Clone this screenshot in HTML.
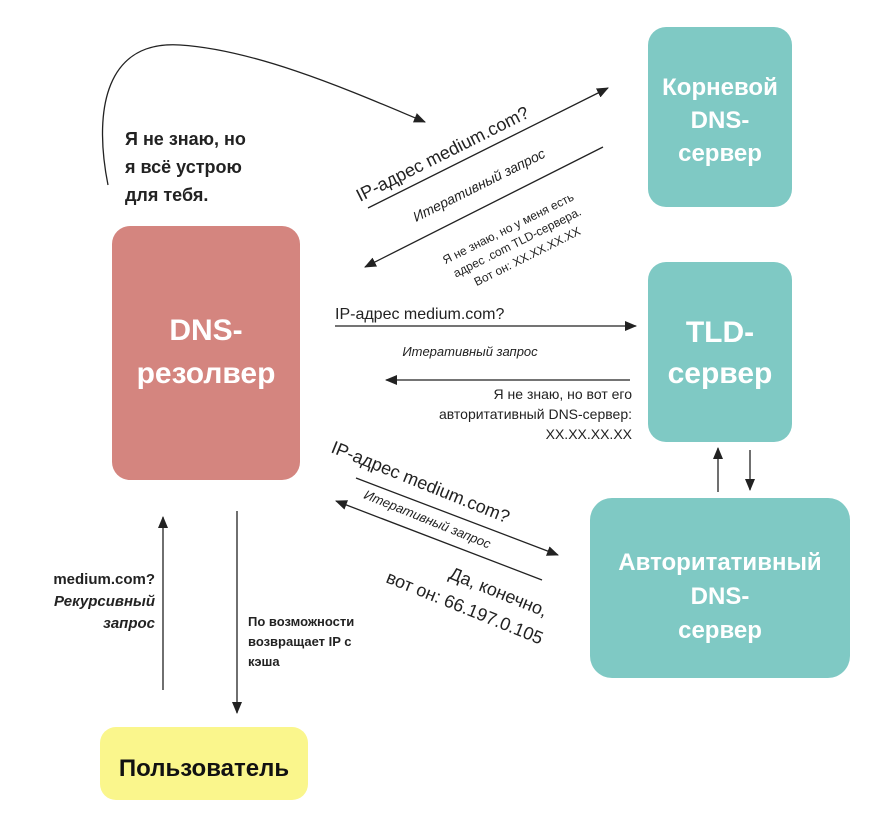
<!DOCTYPE html>
<html><head><meta charset="utf-8"><style>
html,body{margin:0;padding:0;background:#fff;}
svg{display:block;font-family:"Liberation Sans","DejaVu Sans",sans-serif;}
</style></head><body>
<svg width="878" height="828" viewBox="0 0 878 828" xmlns="http://www.w3.org/2000/svg">
<defs>
<marker id="a" markerWidth="12" markerHeight="10" refX="11" refY="5" orient="auto" markerUnits="userSpaceOnUse">
<path d="M0,0 L12,5 L0,10 Z" fill="#222"/></marker>
</defs>
<rect x="648" y="27" width="144" height="180" rx="18" fill="#7fc9c4"/>
<rect x="648" y="262" width="144" height="180" rx="18" fill="#7fc9c4"/>
<rect x="590" y="498" width="260" height="180" rx="22" fill="#7fc9c4"/>
<rect x="112" y="226" width="188" height="254" rx="18" fill="#d4857f"/>
<rect x="100" y="727" width="208" height="73" rx="16" fill="#faf68c"/>
<g fill="#fff" font-weight="bold" text-anchor="middle">
<text x="720" y="95" font-size="24">Корневой</text>
<text x="720" y="128" font-size="24">DNS-</text>
<text x="720" y="161" font-size="24">сервер</text>
<text x="720" y="342" font-size="30">TLD-</text>
<text x="720" y="383" font-size="30">сервер</text>
<text x="720" y="570" font-size="24">Авторитативный</text>
<text x="720" y="604" font-size="24">DNS-</text>
<text x="720" y="638" font-size="24">сервер</text>
<text x="206" y="340" font-size="30">DNS-</text>
<text x="206" y="383" font-size="30">резолвер</text>
</g>
<text x="204" y="776" font-size="24" font-weight="bold" text-anchor="middle" fill="#111">Пользователь</text>
<g stroke="#222" stroke-width="1.3" fill="none">
<path d="M108,185 C95,120 100,40 180,45 C260,50 360,95 425,122" marker-end="url(#a)"/>
<line x1="368" y1="208" x2="608" y2="88" marker-end="url(#a)"/>
<line x1="603" y1="147" x2="365" y2="267" marker-end="url(#a)"/>
<line x1="335" y1="326" x2="636" y2="326" marker-end="url(#a)"/>
<line x1="630" y1="380" x2="386" y2="380" marker-end="url(#a)"/>
<line x1="356" y1="478" x2="558" y2="555" marker-end="url(#a)"/>
<line x1="542" y1="580" x2="336" y2="501" marker-end="url(#a)"/>
<line x1="163" y1="690" x2="163" y2="517" marker-end="url(#a)"/>
<line x1="237" y1="511" x2="237" y2="713" marker-end="url(#a)"/>
<line x1="718" y1="492" x2="718" y2="448" marker-end="url(#a)"/>
<line x1="750" y1="450" x2="750" y2="490" marker-end="url(#a)"/>
</g>
<g fill="#222" font-weight="bold" font-size="18">
<text x="125" y="145">Я не знаю, но</text>
<text x="125" y="173">я всё устрою</text>
<text x="125" y="201">для тебя.</text>
</g>
<g fill="#222" font-weight="bold" font-size="15">
<text x="155" y="584" text-anchor="end">medium.com?</text>
<text x="155" y="606" text-anchor="end" font-style="italic">Рекурсивный</text>
<text x="155" y="628" text-anchor="end" font-style="italic">запрос</text>
</g>
<g fill="#222" font-weight="bold" font-size="13">
<text x="248" y="626">По возможности</text>
<text x="248" y="646">возвращает IP с</text>
<text x="248" y="666">кэша</text>
</g>
<g fill="#222">
<text transform="translate(360,202) rotate(-26.6)" font-size="18">IP-адрес medium.com?</text>
<text transform="translate(416,222) rotate(-26.6)" font-size="14" font-style="italic">Итеративный запрос</text>
<g font-size="12" text-anchor="middle">
<text transform="translate(510,232) rotate(-26.6)">Я не знаю, но у меня есть</text>
<text transform="translate(519,246) rotate(-26.6)">адрес .com TLD-сервера.</text>
<text transform="translate(529,260) rotate(-26.6)">Вот он: XX.XX.XX.XX</text>
</g>
<text x="335" y="319" font-size="16">IP-адрес medium.com?</text>
<text x="470" y="356" font-size="13" font-style="italic" text-anchor="middle">Итеративный запрос</text>
<g font-size="14" text-anchor="end">
<text x="632" y="399">Я не знаю, но вот его</text>
<text x="632" y="419">авторитативный DNS-сервер:</text>
<text x="632" y="439">XX.XX.XX.XX</text>
</g>
<text transform="translate(330,452) rotate(22)" font-size="18">IP-адрес medium.com?</text>
<text transform="translate(363,498) rotate(22)" font-size="13" font-style="italic">Итеративный запрос</text>
<text transform="translate(448,578) rotate(22)" font-size="18">Да, конечно,</text>
<text transform="translate(385,582) rotate(22)" font-size="18">вот он: 66.197.0.105</text>
</g>
</svg>
</body></html>
